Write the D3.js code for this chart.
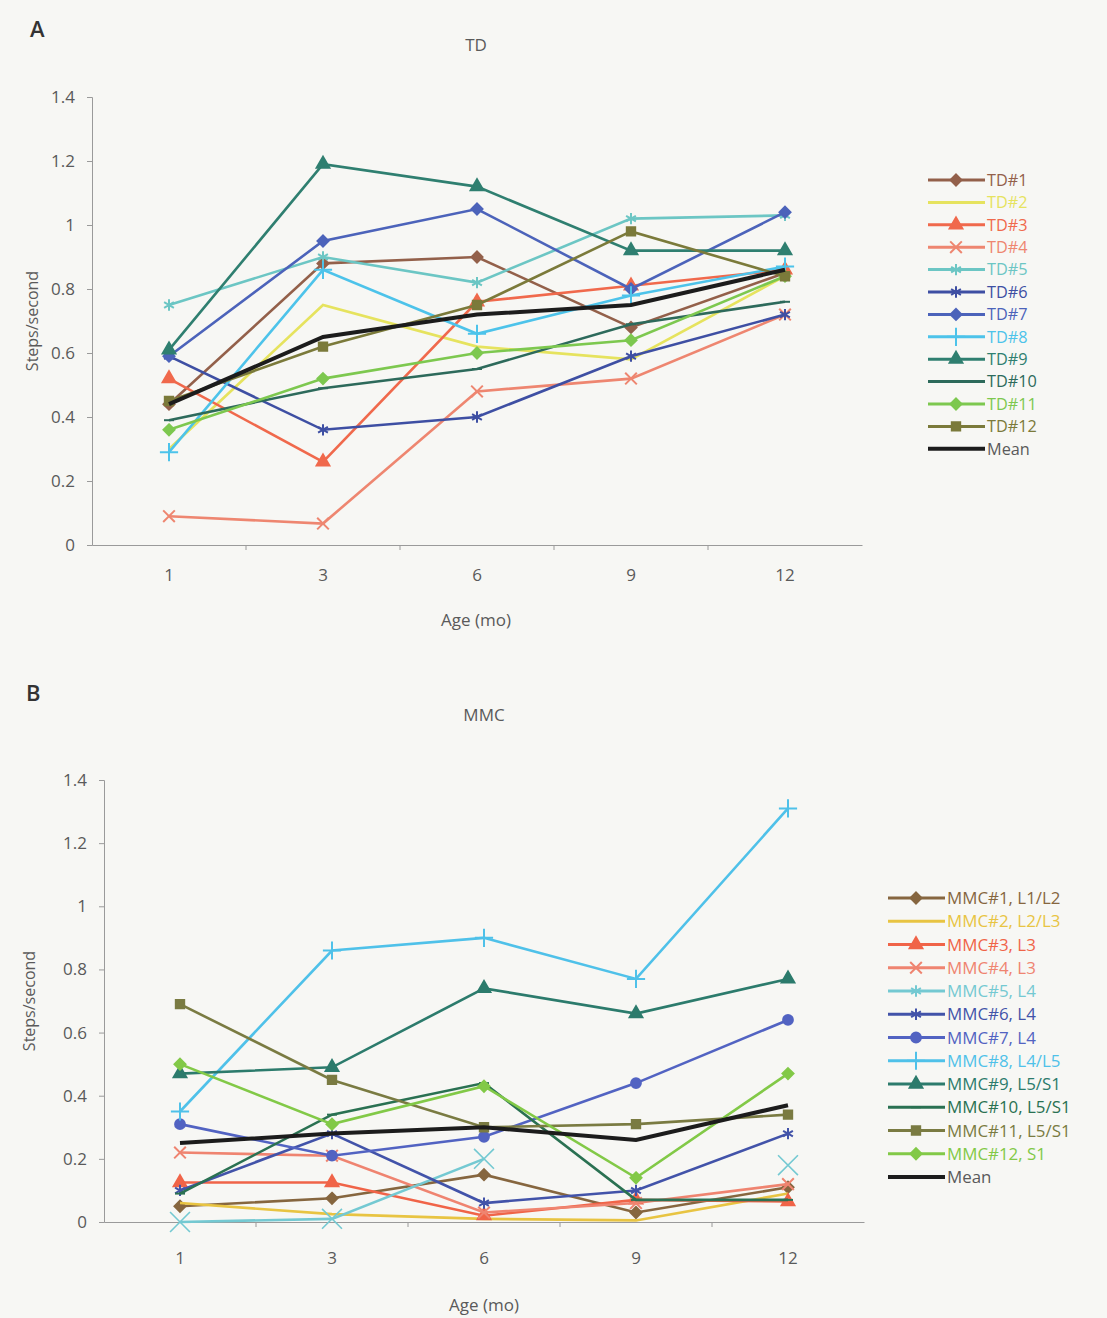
<!DOCTYPE html>
<html>
<head>
<meta charset="utf-8">
<script src="https://cdn.jsdelivr.net/npm/d3@7"></script>
<style>
  body { margin: 0; background: #f7f7f4; }
  svg { display: block; }
  text { font-family: "Open Sans", "Noto Sans", sans-serif; fill: #5a5a5a; }
</style>
</head>
<body>
<svg id="chart"></svg>
<script>
// data
var ages = ["1", "3", "6", "9", "12"];
var yTicks = [0, 0.2, 0.4, 0.6, 0.8, 1, 1.2, 1.4];

var tdNames = ["TD#1", "TD#2", "TD#3", "TD#4", "TD#5", "TD#6", "TD#7", "TD#8", "TD#9", "TD#10", "TD#11", "TD#12"];
var tdValues = [
  [0.44, 0.88, 0.90, 0.68, 0.85],
  [0.30, 0.75, 0.62, 0.58, 0.84],
  [0.52, 0.26, 0.76, 0.81, 0.86],
  [0.09, 0.067, 0.48, 0.52, 0.72],
  [0.75, 0.90, 0.82, 1.02, 1.03],
  [0.59, 0.36, 0.40, 0.59, 0.72],
  [0.59, 0.95, 1.05, 0.80, 1.04],
  [0.29, 0.86, 0.66, 0.78, 0.87],
  [0.61, 1.19, 1.12, 0.92, 0.92],
  [0.39, 0.49, 0.55, 0.69, 0.76],
  [0.36, 0.52, 0.60, 0.64, 0.84],
  [0.45, 0.62, 0.75, 0.98, 0.84]
];
var tdMean = [0.44, 0.65, 0.72, 0.75, 0.86];

var mmcNames = ["MMC#1, L1/L2", "MMC#2, L2/L3", "MMC#3, L3", "MMC#4, L3", "MMC#5, L4", "MMC#6, L4",
  "MMC#7, L4", "MMC#8, L4/L5", "MMC#9, L5/S1", "MMC#10, L5/S1", "MMC#11, L5/S1", "MMC#12, S1"];
var mmcValues = [
  [0.05, 0.075, 0.15, 0.03, 0.11],
  [0.06, 0.025, 0.01, 0.005, 0.09],
  [0.125, 0.125, 0.02, 0.07, 0.065],
  [0.22, 0.21, 0.03, 0.06, 0.12],
  [0.0, 0.01, 0.20, null, 0.18],
  [0.10, 0.28, 0.06, 0.10, 0.28],
  [0.31, 0.21, 0.27, 0.44, 0.64],
  [0.35, 0.86, 0.90, 0.77, 1.31],
  [0.47, 0.49, 0.74, 0.66, 0.77],
  [0.09, 0.34, 0.44, 0.07, 0.07],
  [0.69, 0.45, 0.30, 0.31, 0.34],
  [0.50, 0.31, 0.43, 0.14, 0.47]
];
var mmcMean = [0.25, 0.28, 0.30, 0.26, 0.37];

// styling per series (same order in both panels)
var tdColors = ["#93604a", "#e6e35e", "#f0694c", "#ee8670", "#6cc6c4", "#3e4fa3", "#4c63ba",
  "#4dc3ea", "#2f7f70", "#2d6a5b", "#7dc84f", "#7b7a3a"];
var mmcColors = ["#86663f", "#e8c442", "#f06448", "#ef8470", "#74c9d2", "#4253a9", "#5263c2",
  "#4fc1e9", "#2c7b6c", "#2a7152", "#7a7b42", "#82c947"];
var tdMarkers = ["diamond", null, "triangle", "times", "asterisk", "asterisk", "diamond", "plus",
  "triangle", "dash", "diamond", "square"];
var mmcMarkers = ["diamond", null, "triangle", "times", "bigx", "asterisk", "circle", "plus",
  "triangle", "dash", "square", "diamond"];

var svg = d3.select("#chart").attr("width", 1107).attr("height", 1318);

function markerPath(type) {
  if (type == "diamond") return "M0,-5.5L5.5,0L0,5.5L-5.5,0Z";
  if (type == "triangle") return d3.symbol(d3.symbolTriangle, 70)();
  if (type == "square") return d3.symbol(d3.symbolSquare, 70)();
  if (type == "circle") return d3.symbol(d3.symbolCircle, 75)();
  if (type == "times") return d3.symbol(d3.symbolTimes, 90)();
  if (type == "bigx") return d3.symbol(d3.symbolTimes, 260)();
  if (type == "asterisk") return d3.symbol(d3.symbolAsterisk, 90)();
  if (type == "plus") return d3.symbol(d3.symbolPlus, 110)();
  if (type == "dash") return "M-5,0H5";
  return null;
}
function isStroked(type) {
  return ["times", "bigx", "asterisk", "plus", "dash"].indexOf(type) >= 0;
}

function drawPanel(p) {
  var g = svg.append("g");
  var x = d3.scaleBand().domain(ages).range([p.left, p.right]).padding(0);
  var y = d3.scaleLinear().domain([0, 1.4]).range([p.bottom, p.top]);
  var cx = function (i) { return x(ages[i]) + x.bandwidth() / 2; };

  g.append("text").attr("x", p.letterX).attr("y", p.letterY)
    .style("font-size", "22px").style("font-weight", "600").style("fill", "#333").text(p.letter);
  g.append("text").attr("x", p.titleX).attr("y", p.titleY).attr("text-anchor", "middle")
    .style("font-size", "17px").text(p.title);

  // y axis
  var yAxis = g.append("g").attr("transform", "translate(" + p.left + ",0)")
    .call(d3.axisLeft(y).tickValues(yTicks).tickSize(5).tickFormat(d3.format("~g")));
  yAxis.select(".domain").attr("stroke", "#9a9a9a");
  yAxis.selectAll(".tick line").attr("stroke", "#9a9a9a");
  yAxis.selectAll("text").attr("fill", "#5a5a5a").style("font-size", "17px").attr("dx", "-9px");
  g.append("text").attr("transform", "translate(" + p.yLabelX + "," + ((p.top + p.bottom) / 2) + ") rotate(-90)")
    .attr("text-anchor", "middle").style("font-size", "16px").text("Steps/second");

  // x axis: labels centred in bands, ticks at band edges
  var xAxis = g.append("g").attr("transform", "translate(0," + p.bottom + ")")
    .call(d3.axisBottom(x).tickSize(0).tickPadding(p.xPad));
  xAxis.select(".domain").attr("stroke", "#9a9a9a");
  xAxis.selectAll("text").attr("fill", "#5a5a5a").style("font-size", "17px");
  xAxis.selectAll(".edge").data(ages.slice(1)).enter().append("line")
    .attr("x1", function (d) { return x(d); }).attr("x2", function (d) { return x(d); })
    .attr("y1", 0).attr("y2", 5).attr("stroke", "#9a9a9a");
  g.append("text").attr("x", p.titleX).attr("y", p.xLabelY).attr("text-anchor", "middle")
    .style("font-size", "17px").text("Age (mo)");

  var line = d3.line()
    .defined(function (d) { return d != null; })
    .x(function (d, i) { return cx(i); })
    .y(function (d) { return y(d); });

  p.values.forEach(function (vals, s) {
    var col = p.colors[s];
    g.append("path").datum(vals).attr("d", line)
      .attr("fill", "none").attr("stroke", col).attr("stroke-width", 2.6);
    var mk = p.markers[s];
    if (!mk) return;
    vals.forEach(function (v, i) {
      if (v == null) return;
      g.append("path").attr("d", markerPath(mk))
        .attr("transform", "translate(" + cx(i) + "," + y(v) + ")")
        .attr("fill", isStroked(mk) ? "none" : col)
        .attr("stroke", col).attr("stroke-width", mk == "bigx" ? 1.6 : 2);
    });
  });
  g.append("path").datum(p.mean).attr("d", line)
    .attr("fill", "none").attr("stroke", "#1c1c1c").attr("stroke-width", 4);

  // legend
  var names = p.names.concat(["Mean"]);
  names.forEach(function (n, s) {
    var ly = p.legY + s * p.legStep;
    var col = s < p.colors.length ? p.colors[s] : "#1c1c1c";
    g.append("line").attr("x1", p.legX).attr("x2", p.legX + 57).attr("y1", ly).attr("y2", ly)
      .attr("stroke", col).attr("stroke-width", s < p.colors.length ? 3 : 4);
    var mk = s < p.markers.length ? p.markers[s] : null;
    if (mk) {
      g.append("path").attr("d", markerPath(mk == "bigx" ? "asterisk" : mk))
        .attr("transform", "translate(" + (p.legX + 28) + "," + ly + ")")
        .attr("fill", isStroked(mk) ? "none" : col).attr("stroke", col).attr("stroke-width", 2);
    }
    g.append("text").attr("x", p.legX + 59).attr("y", ly).attr("dy", "0.36em")
      .style("font-size", p.legFont).style("fill", s < p.colors.length ? col : "#5a5a5a").text(n);
  });
}

drawPanel({
  letter: "A", letterX: 30, letterY: 37, title: "TD", titleX: 476, titleY: 51,
  left: 92, right: 862, top: 97, bottom: 545, yLabelX: 38, xLabelY: 626, xPad: 24,
  names: tdNames, values: tdValues, mean: tdMean, colors: tdColors, markers: tdMarkers,
  legX: 928, legY: 180, legStep: 22.4, legFont: "16.3px"
});
drawPanel({
  letter: "B", letterX: 26, letterY: 701, title: "MMC", titleX: 484, titleY: 721,
  left: 104, right: 864, top: 780, bottom: 1222, yLabelX: 35, xLabelY: 1311, xPad: 30,
  names: mmcNames, values: mmcValues, mean: mmcMean, colors: mmcColors, markers: mmcMarkers,
  legX: 888, legY: 898, legStep: 23.25, legFont: "16.9px"
});
</script>
</body>
</html>
